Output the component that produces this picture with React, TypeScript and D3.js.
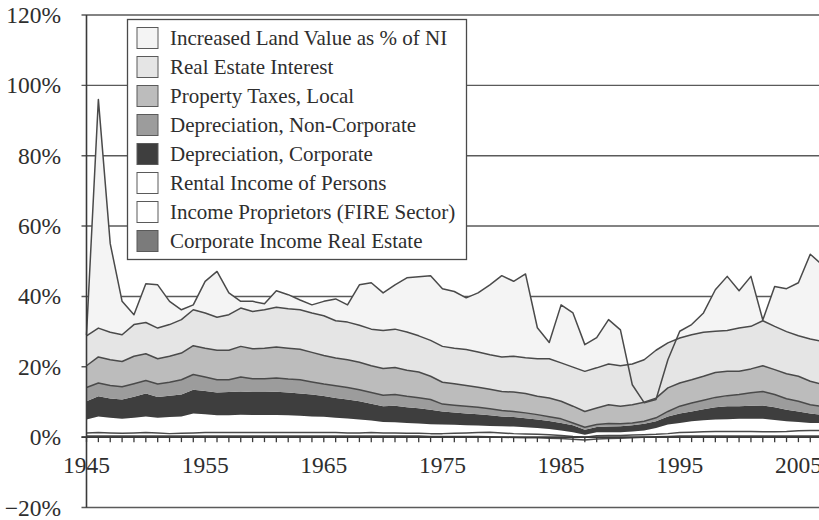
import React from 'react';
import * as d3 from 'd3';

const W = 819;
const H = 520;

// categories
const years = [
  1945, 1946, 1947, 1948, 1949, 1950, 1951, 1952, 1953, 1954,
  1955, 1956, 1957, 1958, 1959, 1960, 1961, 1962, 1963, 1964,
  1965, 1966, 1967, 1968, 1969, 1970, 1971, 1972, 1973, 1974,
  1975, 1976, 1977, 1978, 1979, 1980, 1981, 1982, 1983, 1984,
  1985, 1986, 1987, 1988, 1989, 1990, 1991, 1992, 1993, 1994,
  1995, 1996, 1997, 1998, 1999, 2000, 2001, 2002, 2003, 2004,
  2005, 2006, 2007,
];

// stacked series, % of national income (bottom to top)
const corpIncomeRE = [
  0.3, 0.3, 0.3, 0.3, 0.3, 0.3, 0.3, 0.3, 0.3, 0.3,
  0.3, 0.3, 0.3, 0.3, 0.3, 0.3, 0.3, 0.3, 0.3, 0.3,
  0.3, 0.3, 0.3, 0.3, 0.3, 0.3, 0.3, 0.3, 0.3, 0.2,
  0.2, 0.2, 0.2, 0.2, 0.1, 0.0, -0.1, -0.2, -0.2, -0.3,
  -0.4, -0.6, -0.8, -0.5, -0.4, -0.3, -0.2, 0.0, 0.1, 0.2,
  0.3, 0.3, 0.3, 0.3, 0.3, 0.3, 0.3, 0.3, 0.3, 0.3,
  0.3, 0.3, 0.3,
];
const incomeProprietors = [
  0.9, 1.0, 0.9, 0.8, 0.9, 1.0, 0.9, 0.7, 0.8, 0.9,
  1.0, 1.0, 1.0, 1.0, 1.0, 1.0, 1.0, 1.0, 1.0, 1.0,
  1.0, 1.0, 0.9, 0.9, 1.0, 0.9, 0.9, 0.8, 0.8, 0.8,
  0.8, 0.9, 1.0, 1.1, 1.3, 1.2, 1.1, 1.1, 1.0, 1.0,
  0.9, 0.8, 0.8, 0.9, 0.9, 0.8, 0.8, 0.7, 0.7, 0.8,
  1.0, 1.1, 1.2, 1.3, 1.3, 1.3, 1.3, 1.2, 1.2, 1.3,
  1.5, 1.6, 1.6,
];
const rentalIncome = [
  3.8, 4.6, 4.3, 4.1, 4.3, 4.6, 4.3, 4.7, 4.8, 5.5,
  5.2, 4.9, 4.9, 5.1, 5.0, 5.0, 5.0, 4.9, 4.8, 4.6,
  4.5, 4.2, 4.1, 3.8, 3.4, 3.1, 3.0, 2.9, 2.8, 2.7,
  2.6, 2.4, 2.2, 2.0, 1.8, 1.9, 2.0, 1.9, 1.8, 1.6,
  1.4, 1.2, 0.7, 1.0, 0.9, 0.9, 1.0, 1.2, 1.8, 2.6,
  2.7, 3.1, 3.3, 3.4, 3.5, 3.6, 3.6, 3.7, 3.4, 2.9,
  2.5, 2.1, 2.1,
];
const depCorporate = [
  5.2, 5.7, 5.5, 5.5, 6.0, 6.5, 5.9, 6.1, 6.2, 6.8,
  6.6, 6.5, 6.6, 6.6, 6.5, 6.5, 6.6, 6.5, 6.3, 6.2,
  5.9, 5.6, 5.4, 5.2, 4.8, 4.5, 4.7, 4.5, 4.3, 4.1,
  3.7, 3.5, 3.3, 3.2, 3.0, 2.8, 2.7, 2.6, 2.4, 2.3,
  2.1, 2.0, 1.4, 1.5, 1.6, 1.7, 1.8, 1.9, 1.9, 2.3,
  2.7, 2.8, 3.1, 3.5, 3.7, 3.6, 3.7, 3.8, 3.6, 3.3,
  3.0, 2.7, 2.3,
];
const depNonCorporate = [
  3.9, 3.8, 3.7, 3.6, 3.7, 3.7, 3.7, 3.8, 4.2, 4.3,
  4.0, 3.6, 3.5, 4.1, 3.8, 3.8, 3.9, 3.8, 3.9, 3.6,
  3.4, 3.5, 3.4, 3.3, 3.2, 3.1, 3.2, 3.1, 3.0, 2.9,
  2.1, 2.1, 2.1, 2.0, 1.9, 1.7, 1.6, 1.5, 1.4, 1.2,
  1.2, 0.6, 0.7, 0.7, 0.9, 0.7, 0.6, 0.7, 1.0, 1.4,
  2.1, 2.4, 2.6, 2.8, 3.0, 3.3, 3.7, 4.0, 3.6, 3.1,
  2.9, 2.5, 2.4,
];
const propertyTaxes = [
  6.2, 7.4, 7.3, 7.2, 7.8, 7.6, 7.2, 7.4, 7.6, 8.2,
  8.2, 8.4, 8.4, 8.7, 8.5, 8.7, 8.8, 8.8, 8.7, 8.4,
  8.1, 7.9, 7.9, 7.8, 7.6, 7.6, 7.7, 7.4, 7.3, 6.6,
  6.2, 6.1, 5.9, 5.7, 5.5, 5.4, 5.5, 5.5, 5.2, 5.3,
  5.0, 4.8, 4.5, 4.7, 5.3, 5.0, 5.2, 5.4, 5.6, 6.7,
  6.6, 6.6, 6.8, 7.1, 6.9, 6.6, 6.8, 7.3, 7.1, 7.1,
  7.1, 6.7, 6.3,
];
const realEstateInterest = [
  8.5, 8.2, 7.8, 7.6, 9.0, 8.9, 8.7, 9.0, 9.5, 10.2,
  10.0, 9.4, 10.1, 10.9, 10.6, 10.9, 11.3, 11.2, 11.2, 11.2,
  11.3, 10.6, 10.7, 10.5, 10.4, 10.8, 10.9, 10.9, 10.3, 10.2,
  10.2, 10.1, 10.2, 10.0, 9.8, 9.8, 10.2, 10.2, 10.7, 11.2,
  10.9, 11.1, 11.4, 11.4, 11.6, 11.5, 11.6, 12.1, 13.6, 12.8,
  12.8, 12.8, 12.5, 11.7, 11.6, 12.3, 12.1, 12.8, 12.3, 12.0,
  11.5, 12.0, 12.2,
];

// drawn on its own from zero, not stacked
const landValue = [
  29.0, 96.0, 55.0, 38.6, 34.8, 43.6, 43.3, 38.6, 36.2, 37.6,
  44.3, 47.1, 41.0, 38.6, 38.6, 37.9, 41.6, 40.5, 39.0, 37.6,
  38.6, 39.3, 37.6, 43.3, 43.9, 41.0, 43.3, 45.3, 45.6, 45.9,
  42.2, 41.4, 39.6, 41.0, 43.3, 45.9, 44.3, 46.4, 31.1, 26.9,
  37.6, 35.3, 26.3, 28.3, 33.4, 30.5, 14.9, 9.8, 10.7, 22.0,
  30.1, 32.0, 35.3, 41.9, 45.7, 41.6, 45.7, 33.3, 42.8, 42.2,
  43.9, 52.0, 49.0,
];

const yTicks = [-20, 0, 20, 40, 60, 80, 100, 120];
const xLabelYears = [1945, 1955, 1965, 1975, 1985, 1995, 2005];

const stackKeys = [
  'corpIncomeRE', 'incomeProprietors', 'rentalIncome', 'depCorporate',
  'depNonCorporate', 'propertyTaxes', 'realEstateInterest',
];
const stackFill: Record<string, string> = {
  corpIncomeRE: '#7b7b7b',
  incomeProprietors: '#ffffff',
  rentalIncome: '#ffffff',
  depCorporate: '#3e3e3e',
  depNonCorporate: '#9c9c9c',
  propertyTaxes: '#bcbcbc',
  realEstateInterest: '#e5e5e5',
};
// series whose upper edge shows a drawn line
const outlined = ['corpIncomeRE', 'incomeProprietors', 'depNonCorporate', 'propertyTaxes', 'realEstateInterest'];
const landFill = '#f4f4f4';

const legendItems = [
  { label: 'Increased Land Value as % of NI', fill: landFill },
  { label: 'Real Estate Interest', fill: stackFill.realEstateInterest },
  { label: 'Property Taxes, Local', fill: stackFill.propertyTaxes },
  { label: 'Depreciation, Non-Corporate', fill: stackFill.depNonCorporate },
  { label: 'Depreciation, Corporate', fill: stackFill.depCorporate },
  { label: 'Rental Income of Persons', fill: stackFill.rentalIncome },
  { label: 'Income Proprietors (FIRE Sector)', fill: stackFill.incomeProprietors },
  { label: 'Corporate Income Real Estate', fill: stackFill.corpIncomeRE },
];

const FONT = '"Liberation Serif", "Times New Roman", serif';
const LINE = '#4a4a4a';

const App = () => {
  const x = d3.scaleLinear().domain([1945, 2005]).range([86.5, 798.4]);
  const y = d3.scaleLinear().domain([-20, 120]).range([507.5, 15]);

  const rows = years.map((year, i) => ({
    year,
    corpIncomeRE: corpIncomeRE[i],
    incomeProprietors: incomeProprietors[i],
    rentalIncome: rentalIncome[i],
    depCorporate: depCorporate[i],
    depNonCorporate: depNonCorporate[i],
    propertyTaxes: propertyTaxes[i],
    realEstateInterest: realEstateInterest[i],
    land: landValue[i],
  }));

  const stacked = d3.stack<any>()
    .keys(stackKeys)
    .order(d3.stackOrderNone)
    .offset(d3.stackOffsetNone)(rows);

  const area = d3.area<any>()
    .x(d => x(d.data.year))
    .y0(d => y(d[0]))
    .y1(d => y(d[1]));
  const topLine = d3.line<any>()
    .x(d => x(d.data.year))
    .y(d => y(d[1]));

  const landArea = d3.area<any>()
    .x(d => x(d.year))
    .y0(y(0))
    .y1(d => y(d.land));
  const landLine = d3.line<any>()
    .x(d => x(d.year))
    .y(d => y(d.land));

  const x0 = x(1945);
  const lg = { x: 127.5, y: 19.5, w: 339, h: 240, row: 29 };

  return (
    <svg width={W} height={H} style={{ position: 'absolute', left: 0, top: 0, background: '#fff' }}>
      {/* gridlines */}
      <g>
        {yTicks.map(t => (
          <line key={t} x1={x0 - 5} x2={W} y1={y(t)} y2={y(t)} stroke="#5a5a5a" strokeWidth={1.4} />
        ))}
      </g>

      <path d={landArea(rows) || ''} fill={landFill} />

      <g>
        {stacked.map(s => (
          <path key={s.key} d={area(s as any) || ''} fill={stackFill[s.key]} />
        ))}
      </g>
      <g fill="none" stroke={LINE} strokeWidth={1.5} strokeLinejoin="round">
        {stacked.filter(s => outlined.includes(s.key)).map(s => (
          <path key={s.key} d={topLine(s as any) || ''} />
        ))}
        <path d={landLine(rows) || ''} />
      </g>

      {/* axes */}
      <line x1={x0} x2={x0} y1={y(120)} y2={y(-20)} stroke="#3a3a3a" strokeWidth={1.6} />
      <line x1={x0 - 5} x2={W} y1={y(0)} y2={y(0)} stroke="#3a3a3a" strokeWidth={1.6} />
      <g stroke="#3a3a3a" strokeWidth={1.3}>
        {years.map(yr => (
          <line key={yr} x1={x(yr)} x2={x(yr)} y1={y(0)} y2={y(0) + 5} />
        ))}
      </g>

      <g fontFamily={FONT} fontSize={23.5} fill="#2e2e2e">
        {yTicks.map(t => (
          <text key={t} x={61} y={y(t) + 8} textAnchor="end">
            {t < 0 ? `\u2212${Math.abs(t)}%` : `${t}%`}
          </text>
        ))}
        {xLabelYears.map(yr => (
          <text key={yr} x={x(yr)} y={y(0) + 36} textAnchor="middle">{yr}</text>
        ))}
      </g>

      {/* legend */}
      <g fontFamily={FONT} fontSize={21} fill="#2e2e2e">
        <rect x={lg.x} y={lg.y} width={lg.w} height={lg.h} fill="#fff" stroke={LINE} strokeWidth={1.3} />
        {legendItems.map((it, i) => (
          <g key={it.label} transform={`translate(${lg.x + 9.5},${lg.y + 8 + i * lg.row})`}>
            <rect width={21} height={21} fill={it.fill} stroke="#5a5a5a" strokeWidth={1} />
            <text x={33} y={17}>{it.label}</text>
          </g>
        ))}
      </g>
    </svg>
  );
};

export default App;
